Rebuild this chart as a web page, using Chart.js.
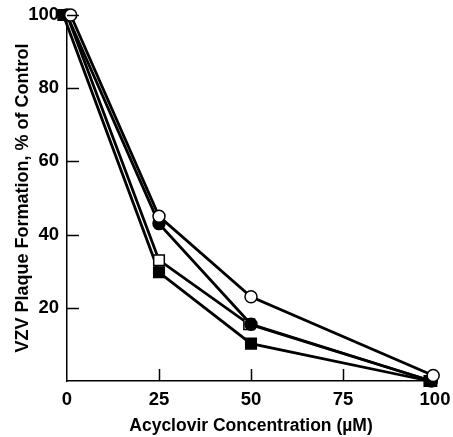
<!DOCTYPE html>
<html><head><meta charset="utf-8">
<script src="https://cdn.jsdelivr.net/npm/chart.js@4/dist/chart.umd.min.js"></script>
<style>html,body{margin:0;padding:0;background:#fff}#wrap{width:453px;height:437px}</style>
</head><body><div id="wrap"><canvas id="c"></canvas></div>
<script>
// Data
const openCircleX = [1, 25, 50, 99.5];
const openCircleY = [100, 45, 23, 1.5];
const filledCircleX = [0, 25, 50, 99];
const filledCircleY = [100, 43, 15.5, 0];
const openSquareX = [0, 25, 49.5, 99];
const openSquareY = [100, 33, 15.5, 0];
const filledSquareX = [-1, 25, 50, 98.5];
const filledSquareY = [100, 29.7, 10.2, 0];
const xTicks = [0, 25, 50, 75, 100];
const yTicks = [20, 40, 60, 80, 100];

const pts = (xs, ys) => xs.map((x, i) => ({x, y: ys[i]}));
const FONT = '"Liberation Sans", Arial, sans-serif';

const inwardTicks = {
  id: 'inwardTicks',
  afterDatasetsDraw(chart) {
    const {ctx, scales:{x, y}} = chart;
    ctx.save();
    ctx.strokeStyle = '#000';
    ctx.lineWidth = 1.5;
    xTicks.forEach(v => {
      if (v === 0 || v === 100) return;
      const px = Math.round(x.getPixelForValue(v)) + 0.5;
      ctx.beginPath(); ctx.moveTo(px, y.bottom); ctx.lineTo(px, y.bottom - 12); ctx.stroke();
    });
    yTicks.forEach(v => {
      const py = Math.round(y.getPixelForValue(v)) + 0.5;
      ctx.beginPath(); ctx.moveTo(x.left, py); ctx.lineTo(x.left + 12, py); ctx.stroke();
    });
    ctx.restore();
  }
};

const ds = (label, xs, ys, style, fill, order) => ({
  label, data: pts(xs, ys), showLine: true,
  borderColor: '#000', borderWidth: 2.8,
  pointStyle: style, pointRadius: style === 'rect' ? 7.5 : 6,
  pointBackgroundColor: fill, pointBorderColor: '#000', pointBorderWidth: 1.5,
  order, clip: false
});

new Chart(document.getElementById('c'), {
  type: 'scatter',
  data: { datasets: [
    ds('open circle', openCircleX, openCircleY, 'circle', '#fff', 0),
    ds('filled circle', filledCircleX, filledCircleY, 'circle', '#000', 1),
    ds('open square', openSquareX, openSquareY, 'rect', '#fff', 2),
    ds('filled square', filledSquareX, filledSquareY, 'rect', '#000', 3)
  ]},
  options: {
    responsive: true, maintainAspectRatio: false, animation: false,
    layout: { padding: { top: 15, right: 18, left: 0, bottom: 0 } },
    plugins: { legend: { display: false }, tooltip: { enabled: false } },
    scales: {
      x: {
        type: 'linear', min: 0, max: 100,
        afterBuildTicks: s => { s.ticks = xTicks.map(v => ({value: v})); },
        afterFit: s => { s.height = 56; s.paddingRight = 0; s.paddingLeft = 0; },
        grid: { display: false, drawTicks: false },
        border: { display: true, color: '#000', width: 1.5 },
        ticks: { padding: 8, color: '#000', font: { family: FONT, size: 18.5, weight: 'bold' }, maxRotation: 0 },
        title: { display: true, text: 'Acyclovir Concentration (\u00b5M)', color: '#000',
          font: { family: FONT, size: 17.5, weight: 'bold' }, padding: { top: 0, bottom: 0 } }
      },
      y: {
        type: 'linear', min: 0, max: 100,
        afterBuildTicks: s => { s.ticks = yTicks.map(v => ({value: v})); },
        afterFit: s => { s.width = 67; s.paddingTop = 0; s.paddingBottom = 0; },
        grid: { display: false, drawTicks: false },
        border: { display: true, color: '#000', width: 1.5 },
        ticks: { padding: 8, color: '#000', font: { family: FONT, size: 18.5, weight: 'bold' } },
        title: { display: true, text: 'VZV Plaque Formation, % of Control', color: '#000',
          font: { family: FONT, size: 18, weight: 'bold' }, padding: { top: 12, bottom: 0 } }
      }
    }
  },
  plugins: [inwardTicks]
});
</script></body></html>
